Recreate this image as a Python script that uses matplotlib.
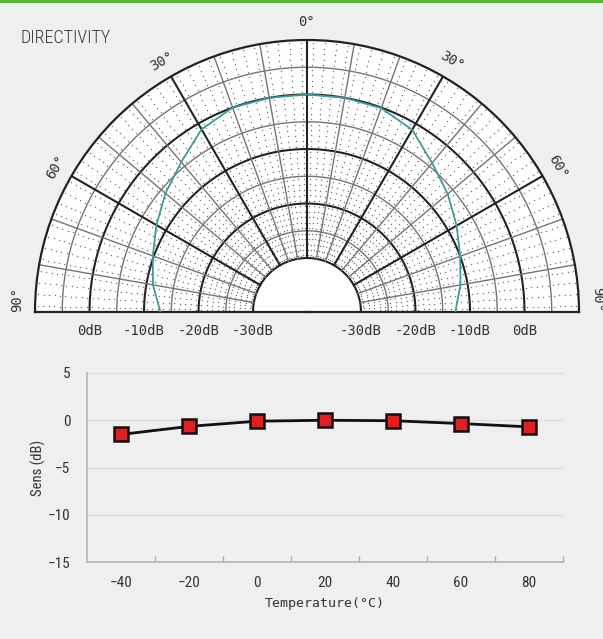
import numpy as np
import matplotlib
matplotlib.use("Agg")
import matplotlib.pyplot as plt
from matplotlib import font_manager as fm
from matplotlib.lines import Line2D

# ---------------- data ----------------
pattern_angles = [-90, -80, -70, -60, -50, -40, -30, -20, -10, 0,
                  10, 20, 30, 40, 50, 60, 70, 80, 90]
pattern_db = [-13.0, -11.2, -9.8, -8.0, -6.0, -4.0, -1.2, 0.0, 0.0, 0.0,
              0.0, -0.1, -1.3, -4.2, -6.2, -8.2, -10.0, -11.3, -12.7]
ring_labels_db = [0, -10, -20, -30]
angle_label_deg = [0, 30, 60, 90]

temps = [-40, -20, 0, 20, 40, 60, 80]
sens = [-1.5, -0.65, -0.1, 0.0, -0.05, -0.35, -0.7]
y_ticks = [5, 0, -5, -10, -15]


def pick(names):
    for n in names:
        try:
            fm.findfont(fm.FontProperties(family=n), fallback_to_default=False)
            return n
        except Exception:
            continue
    return "DejaVu Sans"


narrow = pick(["Liberation Sans Narrow", "Roboto Condensed", "Liberation Sans"])
title_font = pick(["Roboto Condensed", "Liberation Sans Narrow", "Roboto"])
mono = "DejaVu Sans Mono"

BG = "#eeefee"
fig = plt.figure(figsize=(6.03, 6.39), dpi=100, facecolor=BG)
W, H = 603, 639


def fr(x0, y0, x1, y1):
    return [x0 / W, 1 - y1 / H, (x1 - x0) / W, (y1 - y0) / H]


# green top line
fig.add_artist(Line2D([0, 1], [1 - 1 / H, 1 - 1 / H], transform=fig.transFigure,
                      color="#5ab52e", lw=2.2))

fig.text(20 / W, 1 - 38 / H, "DIRECTIVITY", fontsize=13, color="#3a3a3a",
         family=title_font, fontweight="light", va="center", ha="left")

# ---------------- polar chart ----------------
DB_MIN, DB_MAX = -30, 10
R_ORIGIN = -30 - 9.9
# half-disc: centre (307, 312), radius 272 px; the polar wedge is drawn at
# half the size of its axes box, centred in it
CX, CY, R = 307, 176, 272
ax = fig.add_axes(fr(CX - 2 * R, CY - R, CX + 2 * R, CY + R), projection="polar")
ax.set_theta_zero_location("N")
ax.set_theta_direction(-1)
ax.set_thetamin(-90)
ax.set_thetamax(90)
ax.set_rlim(R_ORIGIN, DB_MAX)
ax.grid(False)
ax.set_xticks([])
ax.set_yticks([])
ax.set_facecolor("white")
for name, sp in ax.spines.items():
    sp.set_color("#222222")
    sp.set_linewidth(1.6)
ax.spines["inner"].set_visible(False)

# dotted texture
th_d = np.deg2rad(np.arange(-88.75, 90, 2.5))
r_d = np.arange(DB_MIN + 0.5, DB_MAX, 1.0)
TT, RR = np.meshgrid(th_d, r_d)
ax.scatter(TT.ravel(), RR.ravel(), s=1.1, c="#7a7a7a", linewidths=0, zorder=1)

# rings
th_full = np.deg2rad(np.linspace(-90, 90, 721))
for db in range(DB_MIN, DB_MAX, 5):
    thick = db % 10 == 0
    ax.plot(th_full, np.full_like(th_full, db),
            color="#222222" if thick else "#7a7272",
            lw=1.5 if thick else 1.0, zorder=2)
# radial lines
for a in range(-80, 90, 10):
    thick = a % 30 == 0
    ax.plot([np.deg2rad(a)] * 2, [DB_MIN, DB_MAX],
            color="#222222" if thick else "#7a7272",
            lw=1.5 if thick else 1.0, zorder=2)

# directivity pattern
ax.plot(np.deg2rad(pattern_angles), pattern_db, color="#3f9b9b", lw=1.3, zorder=3)

# angle labels
lab_r = 13.3
for a in angle_label_deg:
    if a == 0:
        ax.text(0, lab_r, "0°", ha="center", va="center", fontsize=10,
                family=mono, color="#333333")
        continue
    aa = 87.5 if a == 90 else a
    for s in (-1, 1):
        ax.text(np.deg2rad(s * aa), lab_r, f"{a}°", ha="center", va="center",
                fontsize=10, family=mono, color="#333333",
                rotation=-s * a, rotation_mode="anchor")

# dB labels under baseline
for db in ring_labels_db:
    for s in (-1, 1):
        ax.annotate(f"{db}dB", xy=(np.deg2rad(s * 90), db), xytext=(0, -14),
                    textcoords="offset points", ha="center", va="center",
                    fontsize=10, family=mono, color="#333333",
                    annotation_clip=False)

# ---------------- temperature chart ----------------
bx = fig.add_axes(fr(87, 373, 563, 562))
bx.set_facecolor(BG)
bx.set_xlim(-50, 90)
bx.set_ylim(-15, 5)
bx.set_yticks(y_ticks)
bx.set_yticklabels([str(v) if v >= 0 else "\u2212" + str(-v) for v in y_ticks])
bx.set_xticks(temps)
bx.set_xticklabels([str(v) if v >= 0 else "\u2212" + str(-v) for v in temps])
bx.set_xticks(np.arange(-30, 91, 20), minor=True)
bx.tick_params(axis="x", which="major", length=0, pad=10, labelsize=11,
               labelcolor="#333333")
bx.tick_params(axis="x", which="minor", length=4, direction="in",
               color="#aaaaaa", width=1)
bx.tick_params(axis="y", which="major", length=0, pad=12, labelsize=11,
               labelcolor="#333333")
for lab in bx.get_xticklabels() + bx.get_yticklabels():
    lab.set_family(narrow)
bx.grid(axis="y", color="#dcdddc", lw=1)
bx.set_axisbelow(True)
for side in ("top", "right"):
    bx.spines[side].set_visible(False)
for side in ("left", "bottom"):
    bx.spines[side].set_color("#b4b4b4")
    bx.spines[side].set_linewidth(1.2)

bx.plot(temps, sens, color="#111111", lw=2, marker="s", markersize=10,
        markerfacecolor="#e02020", markeredgecolor="#111111",
        markeredgewidth=1.8, zorder=4, clip_on=False)

bx.set_ylabel("Sens (dB)", fontsize=10.5, family=narrow, color="#333333",
              labelpad=1)
bx.set_xlabel("Temperature(°C)", fontsize=9.5, family=mono, color="#333333",
              labelpad=5)

fig.savefig("out.png", dpi=100, facecolor=BG)
